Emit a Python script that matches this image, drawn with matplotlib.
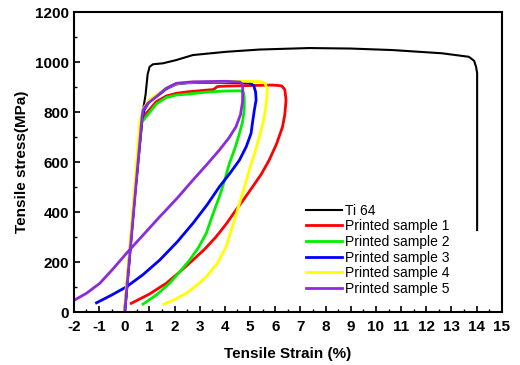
import matplotlib.pyplot as plt
from matplotlib.ticker import MultipleLocator

plt.rcParams['font.family'] = ['Liberation Sans', 'DejaVu Sans']
plt.rcParams['axes.unicode_minus'] = False

# 곡선 데이터
ti64_x = [0.75, 0.85, 0.93, 1.01, 1.14, 1.54, 2.07, 2.73, 4.05, 5.37, 7.35, 9.0, 10.65, 12.63, 13.69, 13.9, 13.98, 14.02, 14.02]
ti64_y = [808, 870, 950, 981, 991, 995, 1008, 1028, 1041, 1050, 1056, 1054, 1048, 1035, 1021, 1005, 980, 955, 328]

s1_x = [0.02, 0.4, 0.7, 0.88, 1.27, 1.67, 2.07, 2.53, 3.3, 3.55, 3.7, 4.05, 5.0, 5.9, 6.25, 6.38, 6.43, 6.38, 6.29, 6.05, 5.76, 5.45,
        5.1, 4.78, 4.44, 4.05, 3.65, 3.2, 2.73, 2.2, 1.67, 1.0, 0.28]
s1_y = [0, 450, 760, 795, 841, 864, 875, 881, 888, 890, 902, 904, 906, 908, 905, 890, 848, 790, 741, 672, 608, 552,
        501, 455, 408, 352, 301, 252, 208, 160, 115, 72, 35]

s2_x = [0.02, 0.4, 0.7, 0.9, 1.27, 1.67, 2.07, 2.53, 3.3, 4.0, 4.6, 4.73, 4.77, 4.77, 4.70, 4.58, 4.4, 4.18, 4.0, 3.78, 3.5,
        3.26, 2.95, 2.6, 2.2, 1.8, 1.3, 0.75]
s2_y = [0, 450, 760, 785, 832, 858, 868, 872, 880, 884, 885, 880, 860, 808, 760, 715, 655, 595, 530, 461, 385,
        315, 258, 208, 160, 115, 70, 32]

s3_x = [0.02, 0.4, 0.7, 0.8, 1.01, 1.41, 1.67, 2.07, 2.53, 3.5, 4.5, 5.0, 5.15, 5.22, 5.24, 5.17, 5.1, 5.04, 4.85, 4.58, 4.2,
        3.78, 3.3, 2.73, 2.1, 1.41, 0.75, 0.09, -0.5, -1.1]
s3_y = [0, 450, 770, 810, 845, 872, 893, 912, 917, 919, 918, 916, 905, 880, 848, 808, 760, 715, 662, 608, 555,
        501, 430, 355, 280, 208, 150, 101, 68, 37]

s4_x = [0.0, 0.35, 0.62, 0.75, 1.01, 1.41, 1.67, 2.07, 2.53, 3.5, 4.5, 5.4, 5.6, 5.68, 5.67, 5.63, 5.52, 5.37, 5.18, 4.97,
        4.78, 4.58, 4.38, 4.2, 4.05, 3.7, 3.26, 2.85, 2.47, 2.0, 1.58]
s4_y = [0, 420, 760, 812, 850, 877, 896, 914, 919, 922, 923, 922, 915, 890, 860, 821, 760, 701, 635, 568,
        500, 435, 368, 310, 261, 195, 141, 105, 75, 50, 32]

s5_x = [0.02, 0.4, 0.71, 0.75, 0.94, 1.27, 1.67, 2.07, 2.73, 4.05, 4.6, 4.68, 4.71, 4.70, 4.62, 4.44, 4.15, 3.78, 3.3, 2.73,
        2.1, 1.41, 0.75, 0.09, -0.45, -0.97, -1.5, -2.03]
s5_y = [0, 430, 781, 808, 835, 861, 895, 915, 921, 923, 920, 913, 895, 840, 790, 741, 695, 648, 592, 528,
        455, 381, 308, 235, 172, 115, 75, 45]

labels = ['Ti 64', 'Printed sample 1', 'Printed sample 2', 'Printed sample 3',
          'Printed sample 4', 'Printed sample 5']
colors = ['black', 'red', '#00ee00', 'blue', 'yellow', '#8a2be2']

fig = plt.figure(figsize=(5.2, 3.65), dpi=100)
ax = fig.add_axes([0.142, 0.145, 0.823, 0.822])

series = [(ti64_x, ti64_y), (s1_x, s1_y), (s2_x, s2_y), (s3_x, s3_y), (s4_x, s4_y), (s5_x, s5_y)]
for (x, y), lab, c in zip(series, labels, colors):
    lw = 1.5 if c == 'black' else 2.0
    ax.plot(x, y, color=c, lw=lw, label=lab, solid_joinstyle='round')

ax.set_xlim(-2, 15)
ax.set_ylim(0, 1200)
ax.xaxis.set_major_locator(MultipleLocator(1))
ax.xaxis.set_minor_locator(MultipleLocator(0.5))
ax.yaxis.set_major_locator(MultipleLocator(200))
ax.yaxis.set_minor_locator(MultipleLocator(100))
ax.tick_params(which='both', direction='in', top=False, right=False)
ax.tick_params(which='major', length=4, width=1.2, labelsize=11)
ax.tick_params(axis='x', which='major', pad=6)
ax.tick_params(which='minor', length=2.5, width=1.0)
for lab in ax.get_xticklabels() + ax.get_yticklabels():
    lab.set_fontweight('bold')
for sp in ax.spines.values():
    sp.set_linewidth(1.5)

ax.set_xlabel('Tensile Strain (%)', fontsize=11, fontweight='bold', labelpad=9)
ax.set_ylabel('Tensile stress(MPa)', fontsize=11, fontweight='bold', labelpad=4)

ax.legend(loc='upper left', bbox_to_anchor=(0.53, 0.38), frameon=False,
          fontsize=10, handlelength=2.6, handletextpad=0.2, labelspacing=0.12,
          borderaxespad=0)

fig.savefig('out.png', dpi=100)
